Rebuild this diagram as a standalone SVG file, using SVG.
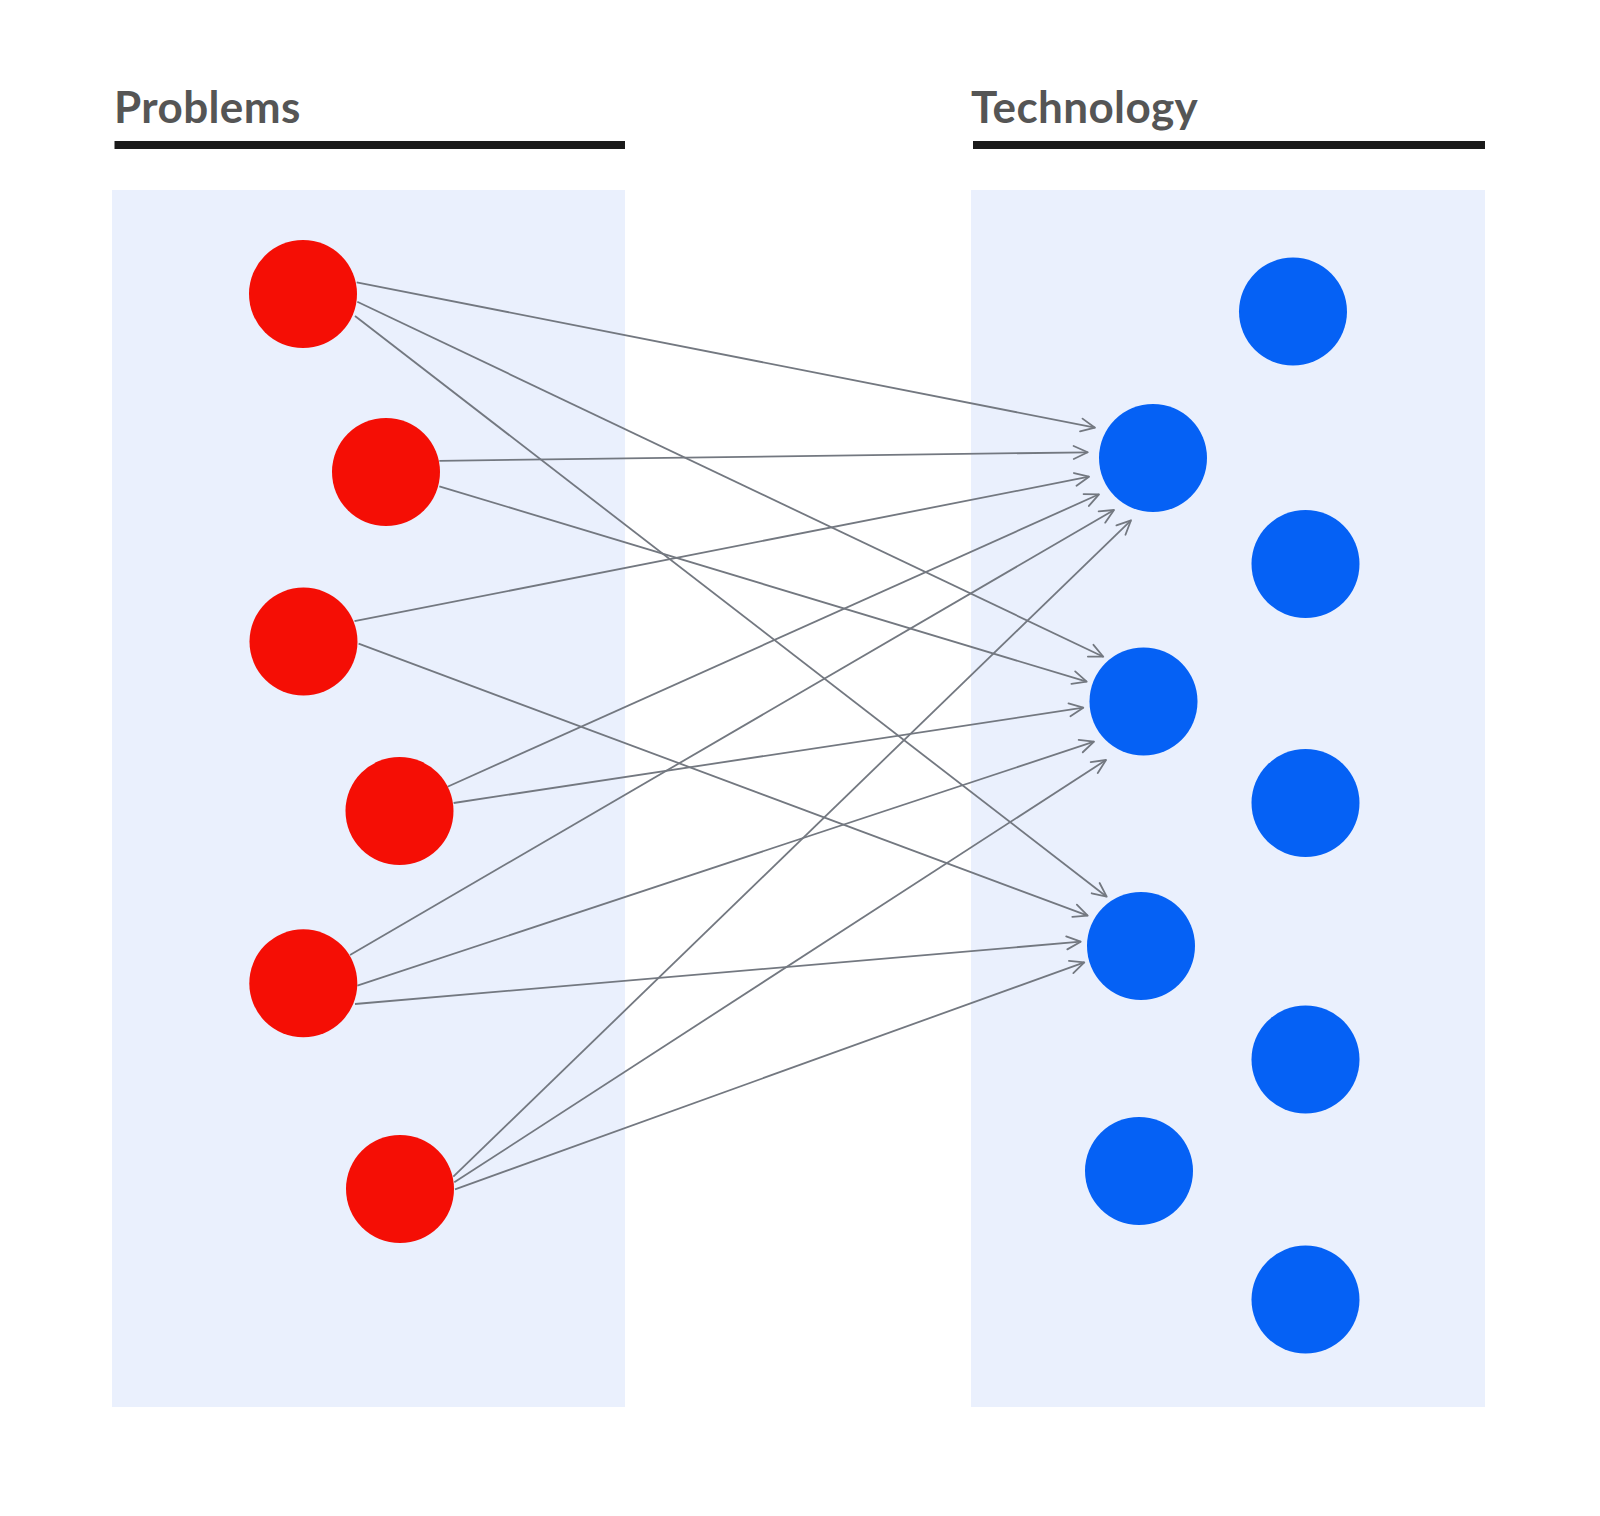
<svg xmlns="http://www.w3.org/2000/svg" width="1600" height="1516" viewBox="0 0 1600 1516">
<defs>
<style>
.title{font-family:Lato,"Open Sans","Liberation Sans",sans-serif;font-weight:700;font-size:44px;fill:#555555;letter-spacing:0.4px}
.bar{fill:#1a1a1a}
.panel{fill:#eaf0fd}
.prob{fill:#f50e05}
.tech{fill:#0561f5}
.conn{stroke:#737880;stroke-width:1.8;fill:none}
</style>
<marker id="arr" viewBox="-16 -8 18 16" refX="0" refY="0" markerWidth="18" markerHeight="16" markerUnits="userSpaceOnUse" orient="auto">
<path d="M-14,-6.5 L0,0 L-14,6.5" fill="none" stroke="#737880" stroke-width="1.8" stroke-linecap="round" stroke-linejoin="round"/>
</marker>
</defs>
<rect width="1600" height="1516" fill="#ffffff"/>
<g id="problems-header">
<text class="title" x="114" y="123">Problems</text>
<rect class="bar" x="114.5" y="141" width="510.5" height="8"/>
</g>
<g id="technology-header">
<text class="title" x="971" y="123">Technology</text>
<rect class="bar" x="973" y="141" width="512" height="8"/>
</g>
<g id="problems-panel"><rect class="panel" x="112" y="190" width="513" height="1217"/></g>
<g id="technology-panel"><rect class="panel" x="971" y="190" width="514" height="1217"/></g>
<g id="connectors">
<line class="conn" marker-end="url(#arr)" x1="356.7" y1="282.3" x2="1095" y2="427.7"/>
<line class="conn" marker-end="url(#arr)" x1="357.3" y1="301.7" x2="1103.3" y2="656.7"/>
<line class="conn" marker-end="url(#arr)" x1="355" y1="316" x2="1106.7" y2="896.7"/>
<line class="conn" marker-end="url(#arr)" x1="439.3" y1="460.8" x2="1087.7" y2="452.3"/>
<line class="conn" marker-end="url(#arr)" x1="439.3" y1="486.3" x2="1086.7" y2="681.7"/>
<line class="conn" marker-end="url(#arr)" x1="354.5" y1="621.2" x2="1089" y2="476.7"/>
<line class="conn" marker-end="url(#arr)" x1="358.6" y1="643.7" x2="1087.7" y2="915.7"/>
<line class="conn" marker-end="url(#arr)" x1="447.5" y1="786.7" x2="1099" y2="494.3"/>
<line class="conn" marker-end="url(#arr)" x1="453.6" y1="803" x2="1083.3" y2="707.7"/>
<line class="conn" marker-end="url(#arr)" x1="350" y1="955" x2="1114" y2="510"/>
<line class="conn" marker-end="url(#arr)" x1="357.3" y1="985.7" x2="1094" y2="741.7"/>
<line class="conn" marker-end="url(#arr)" x1="355" y1="1004" x2="1080.7" y2="941.7"/>
<line class="conn" marker-end="url(#arr)" x1="453.3" y1="1176.7" x2="1131" y2="520.3"/>
<line class="conn" marker-end="url(#arr)" x1="454.3" y1="1182.3" x2="1106" y2="760"/>
<line class="conn" marker-end="url(#arr)" x1="455" y1="1189.3" x2="1084.3" y2="962.3"/>
</g>
<g id="p1"><circle class="prob" cx="303" cy="294" r="54"/></g>
<g id="p2"><circle class="prob" cx="386" cy="472" r="54"/></g>
<g id="p3"><circle class="prob" cx="303.5" cy="641.6" r="54"/></g>
<g id="p4"><circle class="prob" cx="399.5" cy="811" r="54"/></g>
<g id="p5"><circle class="prob" cx="303.3" cy="983.3" r="54"/></g>
<g id="p6"><circle class="prob" cx="400" cy="1189" r="54"/></g>
<g id="t1"><circle class="tech" cx="1153" cy="458" r="54"/></g>
<g id="t2"><circle class="tech" cx="1143.5" cy="701.5" r="54"/></g>
<g id="t3"><circle class="tech" cx="1141" cy="946" r="54"/></g>
<g id="t4"><circle class="tech" cx="1139" cy="1171" r="54"/></g>
<g id="t5"><circle class="tech" cx="1293" cy="311.6" r="54"/></g>
<g id="t6"><circle class="tech" cx="1305.5" cy="564" r="54"/></g>
<g id="t7"><circle class="tech" cx="1305.5" cy="803" r="54"/></g>
<g id="t8"><circle class="tech" cx="1305.5" cy="1059.5" r="54"/></g>
<g id="t9"><circle class="tech" cx="1305.5" cy="1299.6" r="54"/></g>
</svg>
